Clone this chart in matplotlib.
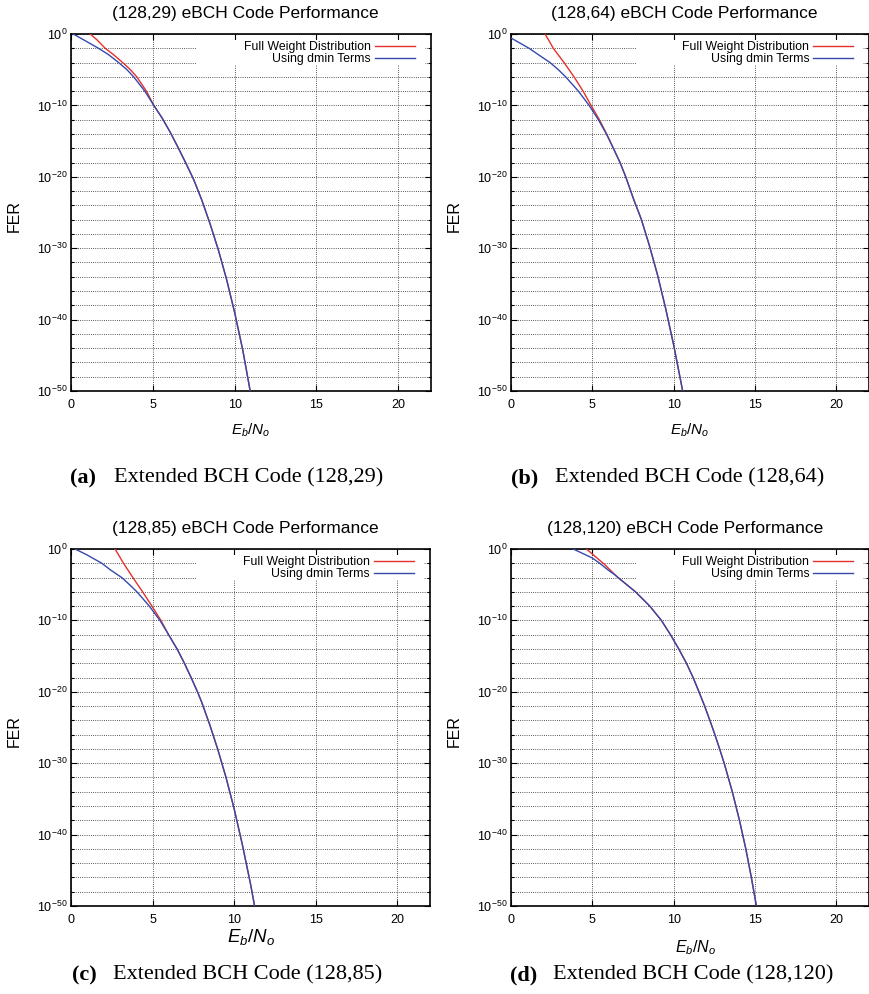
import numpy as np
import matplotlib
matplotlib.use('Agg')
import matplotlib.pyplot as plt
from matplotlib.patches import Rectangle
from matplotlib.ticker import NullFormatter

plt.rcParams['font.family'] = ['Liberation Sans', 'DejaVu Sans']
plt.rcParams['mathtext.fontset'] = 'custom'
plt.rcParams['mathtext.rm'] = 'Liberation Sans'
plt.rcParams['mathtext.it'] = 'Liberation Sans:italic'
plt.rcParams['mathtext.bf'] = 'Liberation Sans:bold'

# Eb/No (dB) and log10(FER) for each code, full weight distribution vs dmin terms only
ebno_a_full = [1.17, 1.58, 2.09, 2.60, 3.16, 3.63, 4.02, 4.61, 5.06, 5.55, 6.05, 6.5, 7.0, 7.5, 8.0, 8.5, 9.0, 9.5, 10.0, 10.5, 10.95]
lfer_a_full = [0, -0.8, -2, -2.9, -4, -5, -6, -8, -10, -11.7, -13.7, -15.7, -18.0, -20.4, -23.3, -26.6, -30.2, -34.3, -39.0, -44.3, -50]
ebno_a_dmin = [0.14, 0.76, 1.68, 2.30, 2.91, 3.42, 3.83, 4.51, 5.06, 5.55, 6.05, 6.5, 7.0, 7.5, 8.0, 8.5, 9.0, 9.5, 10.0, 10.5, 10.95]
lfer_a_dmin = [0, -0.8, -2, -2.9, -4, -5, -6, -8, -10, -11.7, -13.7, -15.7, -18.0, -20.4, -23.3, -26.6, -30.2, -34.3, -39.0, -44.3, -50]

ebno_b_full = [2.09, 2.30, 2.60, 3.26, 3.87, 4.43, 4.92, 5.43, 5.88, 6.29, 6.70, 7.05, 7.56, 8.0, 8.5, 9.0, 9.5, 10.0, 10.55]
lfer_b_full = [0, -0.8, -2, -4, -6, -8, -10, -12, -14, -16, -18, -20, -23.3, -25.9, -29.6, -33.7, -38.4, -43.6, -50]
ebno_b_dmin = [0.0, 1.11, 1.75, 2.40, 2.91, 3.36, 4.14, 4.80, 5.37, 5.86, 6.29, 6.70, 7.05, 7.56, 8.0, 8.5, 9.0, 9.5, 10.0, 10.55]
lfer_b_dmin = [-0.56, -2, -3, -4, -5, -6, -8, -10, -12, -14, -16, -18, -20, -23.3, -25.9, -29.6, -33.7, -38.4, -43.6, -50]

ebno_c_full = [2.70, 3.22, 3.79, 4.39, 4.96, 5.51, 5.98, 6.50, 6.95, 7.36, 7.75, 8.0, 8.5, 9.0, 9.5, 10.0, 10.5, 11.0, 11.25]
lfer_c_full = [0, -2, -4, -6, -8, -10, -12, -14, -16, -18, -20, -21.4, -24.6, -28.1, -32.0, -36.4, -41.4, -46.9, -50]
ebno_c_dmin = [0.25, 0.96, 1.89, 2.40, 3.11, 3.59, 4.04, 4.80, 5.45, 5.98, 6.50, 6.95, 7.36, 7.75, 8.0, 8.5, 9.0, 9.5, 10.0, 10.5, 11.0, 11.25]
lfer_c_dmin = [0, -0.8, -2, -2.9, -4, -5, -6, -8, -10, -12, -14, -16, -18, -20, -21.4, -24.6, -28.1, -32.0, -36.4, -41.4, -46.9, -50]

ebno_d_full = [4.64, 5.2, 5.77, 6.38, 6.58, 7.65, 8.53, 9.24, 9.80, 10.31, 10.78, 11.19, 11.55, 11.90, 12.22, 12.53, 12.82, 13.10, 13.60, 14.04, 14.43, 14.77, 15.08]
lfer_d_full = [0, -1.1, -2.2, -3.6, -4, -6, -8, -10, -12, -14, -16, -18, -20, -22, -24, -26, -28, -30, -34, -38, -42, -46, -50]
ebno_d_dmin = [3.82, 5.0, 5.45, 6.0, 6.38, 6.58, 7.65, 8.53, 9.24, 9.80, 10.31, 10.78, 11.19, 11.55, 11.90, 12.22, 12.53, 12.82, 13.10, 13.60, 14.04, 14.43, 14.77, 15.08]
lfer_d_dmin = [0, -1.26, -2, -3.0, -3.6, -4, -6, -8, -10, -12, -14, -16, -18, -20, -22, -24, -26, -28, -30, -34, -38, -42, -46, -50]

codes = ['(128,29)', '(128,64)', '(128,85)', '(128,120)']
letters = ['(a)', '(b)', '(c)', '(d)']
x_ticks = [0, 5, 10, 15, 20]

panels = [
    (ebno_a_full, lfer_a_full, ebno_a_dmin, lfer_a_dmin),
    (ebno_b_full, lfer_b_full, ebno_b_dmin, lfer_b_dmin),
    (ebno_c_full, lfer_c_full, ebno_c_dmin, lfer_c_dmin),
    (ebno_d_full, lfer_d_full, ebno_d_dmin, lfer_d_dmin),
]

RED = '#e2322b'
BLUE = '#3549ad'
W, H = 870, 994

fig = plt.figure(figsize=(W / 100, H / 100), dpi=100)

# axes boxes in pixels: left, top, right, bottom
boxes = [(71, 34, 431, 391), (511, 34, 869, 391), (71, 549, 430, 906), (511, 549, 869, 906)]
# x label: offset below axes (px), font size, x position
xlab = [(39, 11, 0.5), (39, 11, 0.5), (31, 13.5, 0.5), (42, 11.5, 0.515)]
# caption rows: letter x, text x, y (px)
caps = [(70, 114, 478), (511, 555, 478), (72, 113, 975), (510, 553, 975)]

for i, (xf, yf, xd, yd) in enumerate(panels):
    l, t, r, b = boxes[i]
    ax = fig.add_axes([l / W, 1 - b / H, (r - l) / W, (b - t) / H])
    hpx = b - t
    ax.set_yscale('log')
    ax.set_xlim(0, 22)
    ax.set_ylim(1e-50, 1)

    ax.plot(xf, 10.0 ** np.array(yf), color=RED, lw=1.0, label='Full Weight Distribution', zorder=3)
    ax.plot(xd, 10.0 ** np.array(yd), color=BLUE, lw=1.0, label='Using dmin Terms', zorder=3)

    ax.set_xticks(x_ticks)
    ax.set_yticks([10.0 ** -k for k in range(0, 51, 10)])
    ax.set_yticks([10.0 ** -k for k in range(2, 50, 2) if k % 10], minor=True)
    ax.yaxis.set_minor_formatter(NullFormatter())
    ax.tick_params(which='both', direction='in', top=True, right=True, labelsize=9)
    ax.tick_params(which='major', length=4.5, width=0.8)
    ax.tick_params(which='minor', length=2.2, width=0.8)
    ax.tick_params(axis='y', pad=2.5)
    ax.tick_params(axis='x', pad=6)

    ax.set_axisbelow(True)
    ax.grid(True, which='both', axis='y', color='#222222', lw=0.6, linestyle=(0, (1, 1.6)))
    ax.grid(True, which='major', axis='x', color='#222222', lw=0.6, linestyle=(0, (1, 1.6)))
    for sp in ax.spines.values():
        sp.set_linewidth(1.2)

    # blank area behind the key
    ax.add_patch(Rectangle((0.35, 0.913), 0.633, 0.07, transform=ax.transAxes,
                           facecolor='white', edgecolor='none', zorder=1.5))
    ax.legend(loc='upper right', bbox_to_anchor=(0.9625, 0.987), frameon=False, fontsize=8.8,
              markerfirst=False, handlelength=3.3, handletextpad=0.3, labelspacing=0.0,
              borderpad=0.2, borderaxespad=0)

    ax.text(0.485, 1 + 21 / hpx, codes[i] + ' eBCH Code Performance', transform=ax.transAxes,
            ha='center', va='center', fontsize=12.5)
    ax.text(-57 / (r - l), 0.49, 'FER', transform=ax.transAxes, rotation=90,
            ha='center', va='center', fontsize=11.5)
    off, fs, xc = xlab[i]
    ax.text(xc, -off / hpx, r'$E_b/N_o$', transform=ax.transAxes, ha='center', va='center', fontsize=fs)

    lx, tx, cy = caps[i]
    fig.text(lx / W, 1 - cy / H, letters[i], ha='left', va='center', fontsize=16,
             family='Liberation Serif', weight='bold')
    fig.text(tx / W, 1 - cy / H, 'Extended BCH Code ' + codes[i], ha='left', va='center',
             fontsize=16, family='Liberation Serif')

fig.savefig('out.png', dpi=100)
